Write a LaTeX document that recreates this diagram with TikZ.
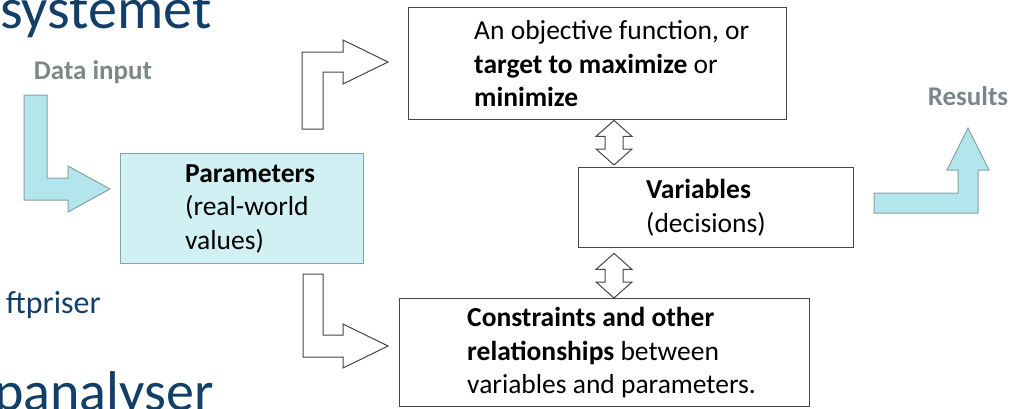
\documentclass[tikz,border=0pt]{standalone}
\usepackage{fontspec}
\setmainfont{Carlito}
\usetikzlibrary{calc}
\definecolor{titleblue}{RGB}{18,63,104}
\definecolor{aqua}{RGB}{178,230,236}
\definecolor{paleaqua}{RGB}{208,240,244}
\definecolor{aquaedge}{RGB}{135,160,163}
\definecolor{boxedge}{RGB}{70,70,70}
\definecolor{labelgray}{RGB}{125,135,137}
\tikzset{
  box/.style={draw=boxedge, line width=1.4pt, fill=white, anchor=north west, inner sep=0},
  boxtext/.style={align=left, inner sep=0, anchor=west, font=\fontsize{27.5}{33.5}\selectfont},
  block/.style={draw=boxedge, line width=1pt, fill=white, line join=miter},
  aquablock/.style={draw=aquaedge, line width=1pt, fill=aqua, line join=miter},
  iolabel/.style={text=labelgray, font=\fontsize{27}{32}\selectfont\bfseries, anchor=base},
  slide/.style={text=titleblue, inner sep=0}
}

\begin{document}
\begin{tikzpicture}[x=1pt, y=-1pt]
  \useasboundingbox (0,0) rectangle (1016,408);
  \clip (0,0) rectangle (1016,408);

  % slide text behind the diagram
  \node (title) [slide, anchor=base west, font=\fontsize{58}{64}\selectfont] at (0,28) {systemet};
  \node (bullet) [slide, anchor=base east, font=\fontsize{32}{36}\selectfont] at (101,313) {ftpriser};
  \node (heading) [slide, anchor=base east, font=\fontsize{56}{62}\selectfont] at (214,410) {panalyser};

  % boxes
  \node (params) [box, fill=paleaqua, draw=aquaedge, minimum width=243, minimum height=110,
    label={[boxtext, xshift=65pt]west:{\textbf{Parameters}\\(real-world\\values)}}] at (120,153) {};
  \node (obj) [box, minimum width=378, minimum height=112,
    label={[boxtext, xshift=66pt]west:{An objective function, or\\\textbf{target to maximize} or\\\textbf{minimize}}}] at (408,7) {};
  \node (vars) [box, minimum width=275, minimum height=80,
    label={[boxtext, xshift=68pt]west:{\textbf{Variables}\\(decisions)}}] at (578,167) {};
  \node (cons) [box, minimum width=410, minimum height=108,
    label={[boxtext, xshift=68pt]west:{\textbf{Constraints and other}\\\textbf{relationships} between\\variables and parameters.}}] at (399,298) {};

  \node (input) [iolabel] at (93,79) {Data input};
  \node (results) [iolabel] at (968,105) {Results};

  % bent block arrows
  \draw[aquablock] (24,95) -- (47,95) -- (47,178) -- (68,178) -- (68,166) -- (110,189)
    -- (68,212) -- (68,200) -- (24,200) -- cycle;
  \draw[block] (302,129) -- (302,52) -- (343,52) -- (343,40) -- (388,62) -- (343,84)
    -- (343,72) -- (323,72) -- (323,129) -- cycle;
  \draw[block] (303,274) -- (323,274) -- (323,335) -- (343,335) -- (343,324) -- (388,346)
    -- (343,368) -- (343,357) -- (303,357) -- cycle;
  \draw[aquablock] (874,193) -- (958,193) -- (958,170) -- (947,170) -- (968,128) -- (989,170)
    -- (978,170) -- (978,213) -- (874,213) -- cycle;

  % two-way arrows on the variables
  \coordinate (axis) at (614,0);
  \coordinate (a1) at (obj.south -| axis);
  \coordinate (b1) at ($(vars.north -| axis)+(0,-2)$);
  \coordinate (a2) at ($(vars.south -| axis)+(0,5)$);
  \coordinate (b2) at (cons.north -| axis);
  \foreach \a/\b in {a1/b1, a2/b2}
    \draw[block] (\a) -- ($(\a)+(18,16)$) -- ($(\a)+(9,16)$) -- ($(\b)+(9,-16)$) -- ($(\b)+(18,-16)$)
      -- (\b) -- ($(\b)+(-18,-16)$) -- ($(\b)+(-9,-16)$) -- ($(\a)+(-9,16)$) -- ($(\a)+(-18,16)$) -- cycle;
\end{tikzpicture}
\end{document}
